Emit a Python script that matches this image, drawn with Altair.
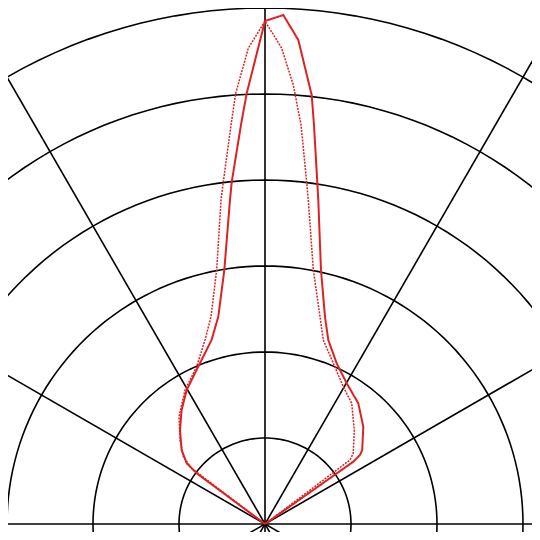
import altair as alt
import pandas as pd

# Polar grid: ring radii (intensity units) and spoke directions (degrees from vertical)
RINGS = [100, 200, 300, 400, 500, 600]
SPOKES = [0, 30, 60, 90, 120, 150]
CIRCLE_STEPS = list(range(0, 362, 2))

# Solid curve: angle (deg, 0 = straight up, + = right) and intensity
SOLID_ANGLE = [-60, -53.4, -52.2, -48.4, -42.1, -36.2, -30.3, -23.0, -16.2, -12.7,
               -9.1, -6.17, -5.56, -3.35, -2.43, 0, 2.06, 3.94, 6.21, 7.0,
               8.69, 9.34, 12.43, 16.14, 18.98, 24.04, 30.14, 37.7, 45.3, 52.7,
               54.0, 54.8, 60]
SOLID_R = [0, 98.9, 115.2, 129.6, 147.4, 164.2, 180.5, 198.7, 222.8, 247.1,
           299.1, 378.9, 399.5, 468.2, 501.3, 584.9, 592.2, 564.1, 501.8, 467.5,
           402.3, 381.8, 302.4, 250.9, 226.3, 204.6, 189.2, 177.4, 160.8, 142.1,
           136.5, 125.7, 0]

# Dotted curve
DOTTED_ANGLE = [-60, -52.8, -50.5, -45.3, -38.7, -30.8, -23.5, -18.06, -14.6, -10.77,
                -7.73, -6.95, -4.87, -3.89, -2.01, 0, 2.01, 3.69, 5.16, 6.95,
                7.61, 10.77, 14.86, 17.58, 23.5, 29.7, 35.7, 43.5, 51.3, 53.0, 60]
DOTTED_R = [0, 107.1, 123.1, 139.0, 159.9, 181.5, 199.4, 225.0, 249.1, 300.7,
            380.2, 400.6, 465.6, 502.0, 553.5, 584.9, 553.5, 511.5, 465.8, 400.6,
            380.1, 300.7, 249.4, 224.4, 201.5, 183.8, 172.8, 150.8, 131.5, 123.7, 0]

RED = "#dd2222"

xs = alt.Scale(domain=[-298.84, 310.47], nice=False, zero=False)
ys = alt.Scale(domain=[-9.30, 600.0], nice=False, zero=False)

grid_df = pd.DataFrame([{"ring": r, "a": a} for r in RINGS for a in CIRCLE_STEPS])
spoke_df = pd.DataFrame({"s": SPOKES})
solid_df = pd.DataFrame({"i": range(len(SOLID_ANGLE)), "ang": SOLID_ANGLE, "r": SOLID_R})
dotted_df = pd.DataFrame({"i": range(len(DOTTED_ANGLE)), "ang": DOTTED_ANGLE, "r": DOTTED_R})

rings = alt.Chart(grid_df).transform_calculate(
    x="datum.ring*sin(datum.a*PI/180)",
    y="datum.ring*cos(datum.a*PI/180)",
).mark_line(color="black", strokeWidth=1.6, clip=True).encode(
    x=alt.X("x:Q", scale=xs, axis=None),
    y=alt.Y("y:Q", scale=ys, axis=None),
    detail="ring:N",
    order="a:Q",
)

spokes = alt.Chart(spoke_df).transform_calculate(
    x="-900*sin(datum.s*PI/180)",
    y="-900*cos(datum.s*PI/180)",
    x2="900*sin(datum.s*PI/180)",
    y2="900*cos(datum.s*PI/180)",
).mark_rule(color="black", strokeWidth=1.6, clip=True).encode(
    x=alt.X("x:Q", scale=xs, axis=None),
    y=alt.Y("y:Q", scale=ys, axis=None),
    x2="x2:Q",
    y2="y2:Q",
)

def curve(df, dash, width):
    return alt.Chart(df).transform_calculate(
        x="datum.r*sin(datum.ang*PI/180)",
        y="datum.r*cos(datum.ang*PI/180)",
    ).mark_line(color=RED, strokeWidth=width, strokeDash=dash, clip=True).encode(
        x=alt.X("x:Q", scale=xs, axis=None),
        y=alt.Y("y:Q", scale=ys, axis=None),
        order="i:Q",
    )

dotted = curve(dotted_df, [2, 1.2], 1.5)
solid = curve(solid_df, [1, 0], 2)

chart = alt.layer(rings, spokes, dotted, solid).properties(
    width=524, height=524,
    autosize=alt.AutoSizeParams(type="none"),
    padding=0,
    background="white",
).configure_view(stroke=None)

chart.save("out.html", embed_options={"renderer": "svg", "actions": False})
